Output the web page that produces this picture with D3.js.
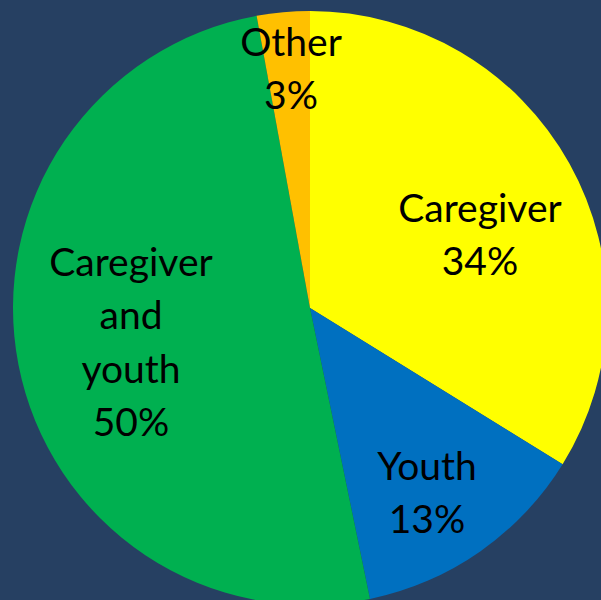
<!DOCTYPE html>
<html>
<head>
<meta charset="utf-8">
<script src="https://cdn.jsdelivr.net/npm/d3@7"></script>
<style>
  html, body { margin: 0; padding: 0; background: #264062; }
  svg { display: block; }
</style>
</head>
<body>
<svg id="chart" width="601" height="600"></svg>
<script>
// ---- data ----
const categories = ["Caregiver", "Youth", "Caregiver and youth", "Other"];
const labelLines = [["Caregiver"], ["Youth"], ["Caregiver", "and", "youth"], ["Other"]];
const counts = [47, 18, 70, 4];
const colors = ["#FFFF00", "#0070C0", "#00B050", "#FFC000"];

// ---- layout ----
const W = 601, H = 600;
const cx = 310, cy = 308, R = 297;
const fontSize = 39, lineH = 53.3;
// first-baseline anchor of each label block (layout, not data)
const labelAnchor = [[480, 222], [427, 480], [131, 276], [291, 56]];

const svg = d3.select("#chart");
svg.append("rect").attr("width", W).attr("height", H).attr("fill", "#264062");

const total = d3.sum(counts);
const data = categories.map((c, i) => ({ name: c, value: counts[i], lines: labelLines[i], color: colors[i], i }));

const pie = d3.pie().sort(null).value(d => d.value).startAngle(0).endAngle(2 * Math.PI);
const arc = d3.arc().innerRadius(0).outerRadius(R);

const g = svg.append("g").attr("transform", `translate(${cx},${cy})`);
g.selectAll("path.slice")
  .data(pie(data))
  .join("path")
  .attr("class", "slice")
  .attr("d", arc)
  .attr("fill", d => d.data.color);

const pct = d3.format(".0%");
const labels = svg.append("g")
  .attr("font-family", "Lato, 'Open Sans', sans-serif")
  .attr("font-size", fontSize)
  .attr("fill", "#000")
  .attr("text-anchor", "middle");

data.forEach((d, i) => {
  const lines = d.lines.concat([pct(d.value / total)]);
  const [x, y] = labelAnchor[i];
  const t = labels.append("text").attr("x", x).attr("y", y);
  lines.forEach((ln, k) => {
    t.append("tspan").attr("x", x).attr("y", y + k * lineH).text(ln);
  });
});
</script>
</body>
</html>
